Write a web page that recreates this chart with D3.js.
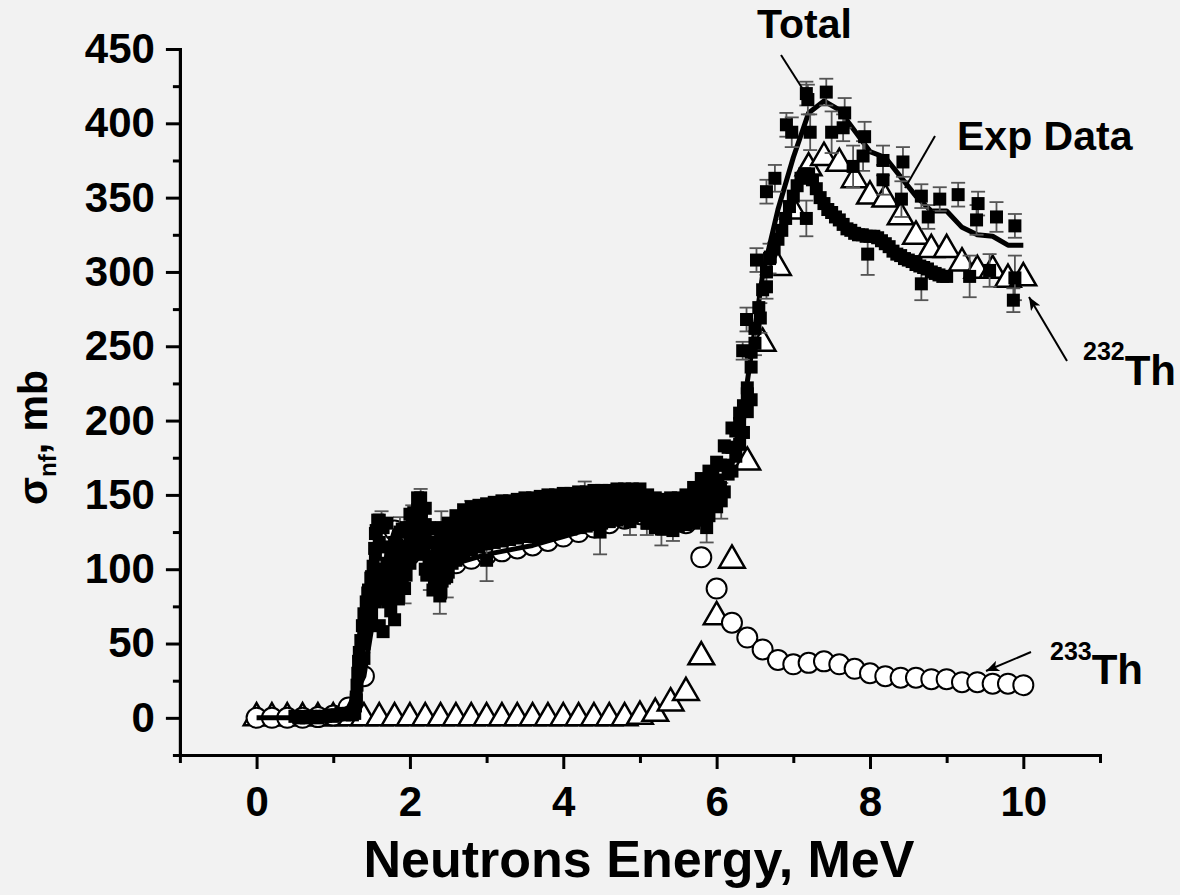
<!DOCTYPE html>
<html>
<head>
<meta charset="utf-8">
<script src="https://cdn.jsdelivr.net/npm/d3@7"></script>
<style>
  html, body { margin: 0; padding: 0; background: #f2f2f2; }
  svg { display: block; }
  text { font-family: "Liberation Sans", Arial, sans-serif; font-weight: bold; fill: #000; }
</style>
</head>
<body>
<svg id="chart" width="1180" height="895"></svg>
<script>
// ---- axis ticks ----
const xMajorTicks = [0, 2, 4, 6, 8, 10];
const xMinorTicks = [-1, 1, 3, 5, 7, 9, 11];
const yMajorTicks = [0, 50, 100, 150, 200, 250, 300, 350, 400, 450];
const yMinorTicks = [-25, 25, 75, 125, 175, 225, 275, 325, 375, 425];

// ---- calculated cross sections (mb) on a 0.2 MeV grid ----
const energyGrid = [0, 0.2, 0.4, 0.6, 0.8, 1, 1.2, 1.4, 1.6, 1.8, 2, 2.2, 2.4, 2.6, 2.8, 3, 3.2, 3.4, 3.6, 3.8,
  4, 4.2, 4.4, 4.6, 4.8, 5, 5.2, 5.4, 5.6, 5.8, 6, 6.2, 6.4, 6.6, 6.8, 7, 7.2, 7.4, 7.6, 7.8,
  8, 8.2, 8.4, 8.6, 8.8, 9, 9.2, 9.4, 9.6, 9.8, 10];
const sigmaTh232 = [0, 0, 0, 0, 0, 0, 0, 0, 0, 0, 0, 0, 0, 0, 0, 0, 0, 0, 0, 0, 0, 0, 0, 0, 0,
  1, 3, 10, 17, 41, 68, 106, 172, 252, 303, 341, 370, 377, 373, 362, 351, 349, 337, 324, 315, 315,
  306, 301, 301, 295, 296];
const sigmaTh233 = [0, 0, 0, 0, 0.5, 1.5, 7, 28, 92, 126, 110, 116, 98, 104, 107, 110, 112, 114, 116, 119,
  122, 125, 128, 131, 134, 137, 139, 138, 131, 108, 87, 64, 54, 46, 39, 36, 37, 38, 36, 33,
  30, 28, 27, 27, 26, 26, 24, 24, 23, 23, 22];
const sigmaTotal = [0, 0, 0, 0, 0.5, 1.5, 7, 28, 92, 126, 110, 116, 98, 104, 107, 110, 112, 114, 116, 119,
  122, 125, 128, 131, 134, 138, 143, 148, 148, 149, 155, 170, 226, 298, 342, 377, 407, 415, 409, 395,
  381, 377, 364, 351, 341, 341, 330, 325, 324, 318, 318];

// ---- experimental data [E (MeV), sigma (mb)] ----
const expBaseline = [[0.50, 1], [0.55, 0], [0.60, 1], [0.65, 0], [0.70, 1], [0.75, 1], [0.80, 0], [0.85, 1],
  [0.90, 1], [0.95, 2], [1.00, 1], [1.05, 2], [1.10, 3], [1.15, 2], [1.20, 3], [1.25, 2]];
const expRise = [[1.28, 3], [1.29, 8], [1.30, 14], [1.31, 22], [1.32, 30], [1.33, 38], [1.34, 44], [1.36, 52],
  [1.38, 62], [1.40, 70], [1.43, 78], [1.46, 86], [1.49, 94], [1.52, 102], [1.54, 114], [1.56, 126], [1.58, 133]];
const expSetA = [[1.3, 12], [1.4, 60], [1.5, 95], [1.6, 133], [1.7, 131], [1.8, 118], [1.9, 127],
  [2.0, 137], [2.1, 148], [2.2, 141], [2.3, 127], [2.4, 125], [2.5, 131], [2.6, 136], [2.7, 140], [2.8, 142],
  [2.9, 143], [3.0, 144], [3.1, 145], [3.2, 146], [3.3, 146], [3.4, 147], [3.5, 148], [3.6, 148], [3.7, 149],
  [3.8, 150], [3.9, 150], [4.0, 151], [4.1, 151], [4.2, 152], [4.3, 152], [4.4, 153], [4.5, 153], [4.6, 153],
  [4.7, 154], [4.8, 154], [4.9, 154], [5.0, 154], [5.1, 150], [5.2, 148], [5.3, 147], [5.4, 148], [5.5, 148],
  [5.6, 150], [5.7, 155], [5.8, 161], [5.9, 166], [6.0, 172], [6.1, 183], [6.2, 195], [6.3, 205], [6.4, 222]];
const expSetB = [[1.35, 38], [1.45, 84], [1.55, 124], [1.65, 128], [1.75, 110], [1.85, 112],
  [1.95, 128], [2.05, 138], [2.15, 140], [2.25, 128], [2.35, 116], [2.45, 120], [2.55, 128], [2.65, 133],
  [2.75, 136], [2.85, 137], [2.95, 138], [3.05, 139], [3.15, 140], [3.25, 141], [3.35, 141], [3.45, 142],
  [3.55, 143], [3.65, 143], [3.75, 144], [3.85, 145], [3.95, 145], [4.05, 146], [4.15, 146], [4.25, 147],
  [4.35, 148], [4.45, 148], [4.55, 148], [4.65, 149], [4.75, 149], [4.85, 149], [4.95, 149], [5.05, 147],
  [5.15, 144], [5.25, 142], [5.35, 141], [5.45, 142], [5.55, 143], [5.65, 146], [5.75, 151], [5.85, 156],
  [5.95, 162], [6.05, 170], [6.15, 182], [6.25, 193], [6.35, 210], [6.45, 236]];
const expSetF = [[1.40, 50], [1.45, 70], [1.50, 85], [1.55, 110], [1.60, 118], [1.65, 98], [1.70, 115],
  [1.75, 92], [1.80, 105], [1.85, 100], [1.90, 112], [1.95, 115], [2.00, 128], [2.05, 125], [2.10, 140],
  [2.15, 132], [2.20, 130], [2.25, 118], [2.30, 118], [2.35, 104], [2.40, 112], [2.45, 108], [2.50, 122],
  [2.55, 116], [2.60, 128], [2.65, 124], [2.70, 134], [2.75, 128], [2.80, 136]];
const expSetC = [[1.4, 55], [1.5, 90], [1.6, 62], [1.7, 90], [1.8, 66], [1.9, 102],
  [2.0, 122], [2.1, 130], [2.2, 122], [2.3, 104], [2.4, 100], [2.5, 112], [2.6, 122], [2.7, 127], [2.8, 130],
  [2.9, 131], [3.0, 132], [3.1, 133], [3.2, 134], [3.3, 135], [3.4, 135], [3.5, 136], [3.6, 137], [3.7, 138],
  [3.8, 138], [3.9, 139], [4.0, 140], [4.1, 140], [4.2, 141], [4.3, 142], [4.4, 142], [4.5, 143], [4.6, 143],
  [4.7, 144], [4.8, 144], [4.9, 144], [5.0, 143], [5.1, 140], [5.2, 137], [5.3, 136], [5.4, 136], [5.5, 137],
  [5.6, 139], [5.7, 143], [5.8, 148], [5.9, 153], [6.0, 160], [6.1, 170], [6.2, 182], [6.3, 198], [6.4, 218]];
const expSetG = [[1.42, 62], [1.47, 80], [1.52, 92], [1.57, 100], [1.62, 80], [1.67, 85], [1.72, 78],
  [1.77, 88], [1.82, 84], [1.87, 92], [1.92, 104], [1.97, 108], [2.02, 115], [2.07, 120], [2.12, 110],
  [2.17, 112], [2.22, 96], [2.27, 100], [2.32, 94], [2.37, 98], [2.42, 92], [2.47, 104], [2.52, 108],
  [2.57, 112], [2.62, 116], [2.67, 118], [2.72, 122], [2.77, 125]];
const expSetD = [[1.45, 70], [1.55, 78], [1.65, 58], [1.75, 72], [1.85, 80], [1.95, 96],
  [2.05, 112], [2.15, 120], [2.25, 108], [2.35, 90], [2.45, 94], [2.55, 104], [2.65, 114], [2.75, 119],
  [2.85, 122], [2.95, 124], [3.05, 125], [3.15, 126], [3.25, 127], [3.35, 128], [3.45, 129], [3.55, 129],
  [3.65, 130], [3.75, 131], [3.85, 132], [3.95, 133], [4.05, 133], [4.15, 134], [4.25, 135], [4.35, 136],
  [4.45, 136], [4.55, 137], [4.65, 138], [4.75, 138], [4.85, 139], [4.95, 139], [5.05, 137], [5.15, 134],
  [5.25, 132], [5.35, 131], [5.45, 131], [5.55, 132], [5.65, 134], [5.75, 138], [5.85, 142], [5.95, 148],
  [6.05, 155], [6.15, 164], [6.25, 176], [6.35, 192], [6.45, 214]];
const expSetE = [[1.4, 40], [1.5, 70], [1.6, 88], [1.7, 104], [1.8, 96], [1.9, 92],
  [2.0, 104], [2.1, 112], [2.2, 100], [2.3, 86], [2.4, 84], [2.5, 98], [2.6, 106], [2.7, 110], [2.8, 113],
  [2.9, 115], [3.0, 117], [3.1, 118], [3.2, 119], [3.3, 120], [3.4, 121], [3.5, 122], [3.6, 122], [3.7, 123],
  [3.8, 124], [3.9, 125], [4.0, 126], [4.1, 127], [4.2, 128], [4.3, 129], [4.4, 130], [4.5, 131], [4.6, 132],
  [4.7, 133], [4.8, 134], [4.9, 135], [5.0, 136], [5.1, 131], [5.2, 128], [5.3, 127], [5.4, 128], [5.5, 129],
  [5.6, 130], [5.7, 131], [5.8, 133], [5.9, 136], [6.0, 142], [6.1, 152], [6.2, 166], [6.3, 184], [6.4, 206]];
const expHigh = [[6.45, 246], [6.50, 262], [6.55, 276], [6.60, 288], [6.65, 300], [6.70, 310], [6.75, 316],
  [6.80, 322], [6.85, 328], [6.90, 336], [6.95, 344], [7.00, 351], [7.05, 358], [7.10, 363], [7.15, 366],
  [7.20, 366], [7.25, 362], [7.30, 356], [7.35, 350], [7.40, 346], [7.45, 342], [7.50, 340], [7.55, 337],
  [7.60, 335], [7.65, 332], [7.70, 329], [7.75, 328], [7.80, 326], [7.85, 325], [7.90, 325], [7.95, 324],
  [8.00, 324], [8.05, 324], [8.10, 323], [8.15, 321], [8.20, 319], [8.25, 317], [8.30, 314], [8.35, 312],
  [8.40, 311], [8.45, 309], [8.50, 308], [8.55, 307], [8.60, 305], [8.65, 304], [8.70, 303], [8.75, 302],
  [8.80, 300], [8.85, 299], [8.90, 298], [8.95, 297], [9.00, 297]];
// points with uncertainties [E, sigma, error]
const expWithErrors = [[1.63, 128, 11], [1.87, 125, 10], [2.03, 134, 9], [2.14, 148, 6], [2.41, 128, 11],
  [2.54, 126, 8], [2.80, 137, 9], [1.93, 87, 10], [2.39, 82, 12], [2.26, 98, 12], [2.48, 95, 14],
  [3.00, 106, 14], [4.28, 150, 9], [4.48, 125, 15], [4.87, 132, 9], [5.09, 131, 8], [5.28, 127, 11],
  [5.43, 126, 7], [5.87, 128, 10], [6.06, 146, 12], [6.34, 247, 6], [6.50, 252, 8],
  [6.39, 268, 8], [6.57, 269, 10], [6.65, 290, 8], [6.52, 308, 8], [6.69, 309, 10], [6.65, 354, 8],
  [6.76, 363, 9], [6.91, 399, 8], [6.98, 394, 10], [7.17, 420, 8], [7.19, 416, 10], [7.43, 421, 9],
  [7.22, 394, 12], [7.50, 394, 14], [7.67, 407, 10], [7.65, 397, 9], [7.93, 391, 10], [7.17, 336, 12],
  [7.91, 378, 10], [7.78, 371, 14], [8.17, 375, 10], [8.43, 374, 10], [8.17, 362, 10], [7.97, 312, 14],
  [8.41, 349, 12], [8.67, 351, 8], [8.91, 349, 8], [9.15, 352, 8], [9.41, 346, 8], [8.76, 337, 8],
  [9.39, 335, 10], [9.65, 337, 10], [9.89, 331, 8], [8.67, 292, 11], [9.30, 297, 14], [9.56, 301, 11],
  [9.89, 296, 15], [9.87, 281, 8]];

// ---- scales ----
const svg = d3.select("#chart");
const x = d3.scaleLinear().domain([-1, 11]).range([179.9, 1100]);
const y = d3.scaleLinear().domain([-25, 450]).range([755, 49]);

// ---- axes ----
function styleAxis(g) {
  g.select(".domain").attr("stroke", "#000").attr("stroke-width", 3).attr("stroke-linecap", "square");
  g.selectAll(".tick line").attr("stroke", "#000").attr("stroke-width", 3);
  g.selectAll(".tick text").attr("font-size", 42).attr("font-weight", "bold")
    .attr("font-family", '"Liberation Sans", Arial, sans-serif').attr("fill", "#000");
}
const axisX = x(-1);
const axisY = y(-25);

svg.append("g").attr("transform", `translate(0,${axisY})`)
  .call(d3.axisBottom(x).tickValues(xMinorTicks).tickSize(8).tickSizeOuter(0).tickFormat(""))
  .call(styleAxis);
svg.append("g").attr("transform", `translate(0,${axisY})`)
  .call(d3.axisBottom(x).tickValues(xMajorTicks).tickSize(14).tickSizeOuter(0).tickPadding(17).tickFormat(d3.format("d")))
  .call(styleAxis);
svg.append("g").attr("transform", `translate(${axisX},0)`)
  .call(d3.axisLeft(y).tickValues(yMinorTicks).tickSize(7).tickSizeOuter(0).tickFormat(""))
  .call(styleAxis);
svg.append("g").attr("transform", `translate(${axisX},0)`)
  .call(d3.axisLeft(y).tickValues(yMajorTicks).tickSize(14).tickSizeOuter(0).tickPadding(11).tickFormat(d3.format("d")))
  .call(styleAxis);

// ---- 232Th triangles ----
const calc = energyGrid.map((e, i) => ({ e, th232: sigmaTh232[i], th233: sigmaTh233[i], total: sigmaTotal[i] }));
const tri = d3.symbol().type(d3.symbolTriangle).size(285);
svg.append("g").selectAll("path").data(calc).join("path")
  .attr("d", tri)
  .attr("transform", d => `translate(${x(d.e)},${y(d.th232)})`)
  .attr("fill", "#fff").attr("stroke", "#000").attr("stroke-width", 2.5).attr("stroke-linejoin", "miter");

// ---- 233Th circles ----
svg.append("g").selectAll("circle").data(calc).join("circle")
  .attr("cx", d => x(d.e)).attr("cy", d => y(d.th233)).attr("r", 10)
  .attr("fill", "#fff").attr("stroke", "#000").attr("stroke-width", 2);

// ---- total ----
svg.append("path").datum(calc)
  .attr("d", d3.line().x(d => x(d.e)).y(d => y(d.total)))
  .attr("fill", "none").attr("stroke", "#000").attr("stroke-width", 5).attr("stroke-linejoin", "round");

// ---- experimental error bars ----
const gErr = svg.append("g").attr("stroke", "#555").attr("stroke-width", 1.8);
gErr.selectAll("line.v").data(expWithErrors).join("line").attr("class", "v")
  .attr("x1", d => x(d[0])).attr("x2", d => x(d[0]))
  .attr("y1", d => y(d[1] - d[2])).attr("y2", d => y(d[1] + d[2]));
gErr.selectAll("line.lo").data(expWithErrors).join("line").attr("class", "lo")
  .attr("x1", d => x(d[0]) - 7).attr("x2", d => x(d[0]) + 7)
  .attr("y1", d => y(d[1] - d[2])).attr("y2", d => y(d[1] - d[2]));
gErr.selectAll("line.hi").data(expWithErrors).join("line").attr("class", "hi")
  .attr("x1", d => x(d[0]) - 7).attr("x2", d => x(d[0]) + 7)
  .attr("y1", d => y(d[1] + d[2])).attr("y2", d => y(d[1] + d[2]));

// ---- experimental squares ----
function squares(data, side) {
  svg.append("g").selectAll("rect").data(data).join("rect")
    .attr("x", d => x(d[0]) - side / 2).attr("y", d => y(d[1]) - side / 2)
    .attr("width", side).attr("height", side).attr("fill", "#000");
}
[expBaseline, expRise, expSetE, expSetD, expSetG, expSetC, expSetF, expSetB, expSetA, expHigh]
  .forEach(s => squares(s, 13));
squares(expWithErrors, 13);

// ---- annotations ----
const defs = svg.append("defs");
defs.append("marker").attr("id", "head").attr("viewBox", "0 0 12 10")
  .attr("refX", 12).attr("refY", 5).attr("markerWidth", 14).attr("markerHeight", 11)
  .attr("markerUnits", "userSpaceOnUse").attr("orient", "auto")
  .append("path").attr("d", "M0,0 L12,5 L0,10 L3,5 Z").attr("fill", "#000");

const ann = svg.append("g").attr("stroke", "#000").attr("stroke-width", 2);
ann.append("line").attr("x1", 781).attr("y1", 55).attr("x2", 804).attr("y2", 91);
ann.append("line").attr("x1", 935).attr("y1", 136).attr("x2", 905).attr("y2", 188);
ann.append("line").attr("x1", 1067).attr("y1", 361).attr("x2", 1029).attr("y2", 297).attr("marker-end", "url(#head)");
ann.append("line").attr("x1", 1031).attr("y1", 652).attr("x2", 986).attr("y2", 671).attr("marker-end", "url(#head)");

svg.append("text").attr("x", 757).attr("y", 38).attr("font-size", 41).text("Total");
svg.append("text").attr("x", 957).attr("y", 150).attr("font-size", 41).text("Exp Data");

const t232 = svg.append("text").attr("x", 1083).attr("y", 385);
t232.append("tspan").attr("font-size", 25).attr("dy", -25).text("232");
t232.append("tspan").attr("font-size", 42).attr("dy", 25).text("Th");
const t233 = svg.append("text").attr("x", 1050).attr("y", 684);
t233.append("tspan").attr("font-size", 25).attr("dy", -24).text("233");
t233.append("tspan").attr("font-size", 42).attr("dy", 24).text("Th");

// ---- axis titles ----
svg.append("text").attr("x", 639).attr("y", 877).attr("text-anchor", "middle").attr("font-size", 52)
  .text("Neutrons Energy, MeV");

const yTitle = svg.append("text").attr("transform", "translate(47,505) rotate(-90)").attr("font-size", 41);
yTitle.append("tspan").text("σ");
yTitle.append("tspan").attr("font-size", 24).attr("dy", 9).text("nf");
yTitle.append("tspan").attr("dy", -9).text(", mb");
</script>
</body>
</html>
